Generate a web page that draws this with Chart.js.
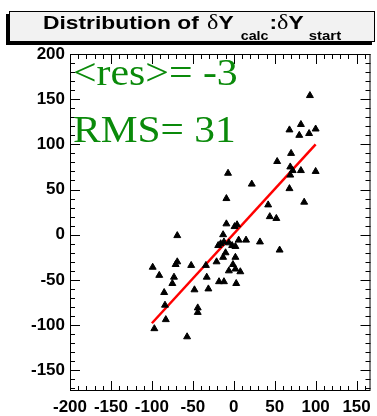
<!DOCTYPE html>
<html>
<head>
<meta charset="utf-8">
<script src="https://cdn.jsdelivr.net/npm/chart.js@4.4.0/dist/chart.umd.min.js"></script>
<style>
    body { margin: 0; background: #ffffff; }
    canvas { display: block; }
</style>
</head>
<body>
<canvas id="myChart" width="377" height="416"></canvas>
<script>
//Data
let dYcalc = [93, 68, 82, 80, 92, 100, 70, 53, 69, 72, 82, 69, 100, -7, 22, 68, -9, 86, 42, 44,
    52, -9, 1, 4, -69, -13, -16, -19, -12, -6, -2, 2, 6, 15, 32, 56, -10, -13, -21, 2,
    -1, -69, -71, -52, -34, -99, -91, -73, -75, -33, -6, 2, 8, -18, -12, 3, -31, -48, -85, -84,
    -44, -44, -83, -97, -57];
let dYstart = [154, 116, 122, 110, 112, 117, 90, 81, 75, 71, 71, 66, 70, 68, 56, 51, 40, 36, 33, 20,
    18, 12, 9, 11, -1, 0, -10, -12, -8, -9, -12, -13, -6, -6, -8, -17, -20, -25, -30, -25,
    -33, -30, -33, -34, -34, -36, -45, -47, -54, -47, -40, -38, -41, -52, -52, -54, -60, -61, -64, -78,
    -81, -86, -94, -104, -113];
let fitX = [-100, 100];
let fitY = [-98, 100];
let xTicks = [-200, -150, -100, -50, 0, 50, 100, 150];
let yTicks = [-150, -100, -50, 0, 50, 100, 150, 200];
let meanRes = -3;
let rmsRes = 31;

let points = dYcalc.map((x, i) => ({ x: x, y: dYstart[i] }));
let fitLine = fitX.map((x, i) => ({ x: x, y: fitY[i] }));

let sansBold = '"Liberation Sans", Arial, sans-serif';
let serif = '"Liberation Serif", "Times New Roman", serif';

//text stretched sideways like the ROOT output, returns the x where it ends
function wideText(ctx, str, x, y, sx) {
    ctx.save();
    ctx.translate(x, y);
    ctx.scale(sx, 1);
    ctx.fillText(str, 0, 0);
    ctx.restore();
    return x + ctx.measureText(str).width * sx;
}

//frame, inward ticks, title box and stats text
let rootStyle = {
    id: 'rootStyle',
    afterDraw(chart) {
        let ctx = chart.ctx;
        let area = chart.chartArea;
        let xs = chart.scales.x;
        let ys = chart.scales.y;

        ctx.save();
        ctx.strokeStyle = '#000000';
        ctx.lineWidth = 1;
        ctx.strokeRect(area.left + 0.5, area.top + 0.5, area.right - area.left - 1, area.bottom - area.top - 1);

        ctx.beginPath();
        for (let v = -200; v <= xs.max; v += 10) {
            let len = (v % 50 === 0) ? 10 : 5;
            let px = Math.round(xs.getPixelForValue(v)) + 0.5;
            ctx.moveTo(px, area.bottom);
            ctx.lineTo(px, area.bottom - len);
            ctx.moveTo(px, area.top);
            ctx.lineTo(px, area.top + len);
        }
        for (let v = -170; v <= ys.max; v += 10) {
            let len = (v % 50 === 0) ? 10 : 5;
            let py = Math.round(ys.getPixelForValue(v)) + 0.5;
            ctx.moveTo(area.left, py);
            ctx.lineTo(area.left + len, py);
            ctx.moveTo(area.right, py);
            ctx.lineTo(area.right - len, py);
        }
        ctx.stroke();

        //title box with shadow
        ctx.fillStyle = '#000000';
        ctx.fillRect(6, 14, 3, 31);
        ctx.fillRect(6, 42, 366, 3);
        ctx.fillStyle = '#f2f2f2';
        ctx.fillRect(9, 11, 366, 31);
        ctx.strokeRect(9.5, 11.5, 365, 30);

        ctx.fillStyle = '#000000';
        ctx.textBaseline = 'alphabetic';
        ctx.textAlign = 'left';
        let tx = 43;
        ctx.font = 'bold 19px ' + sansBold;
        tx = wideText(ctx, 'Distribution of ', tx, 29, 1.2);
        ctx.font = '21px ' + serif;
        tx = wideText(ctx, '\u03B4', tx + 2, 29, 1.15);
        ctx.font = 'bold 19px ' + sansBold;
        tx = wideText(ctx, 'Y', tx, 29, 1.2);
        ctx.font = 'bold 13px ' + sansBold;
        tx = wideText(ctx, 'calc', tx + 7, 40, 1.1);
        ctx.font = 'bold 19px ' + sansBold;
        tx = wideText(ctx, ':', tx + 1, 29, 1.2);
        ctx.font = '21px ' + serif;
        tx = wideText(ctx, '\u03B4', tx, 29, 1.15);
        ctx.font = 'bold 19px ' + sansBold;
        tx = wideText(ctx, 'Y', tx, 29, 1.2);
        ctx.font = 'bold 13px ' + sansBold;
        wideText(ctx, 'start', tx + 5, 40, 1.15);

        //stats
        ctx.fillStyle = '#0a8a0a';
        ctx.font = '38px ' + serif;
        wideText(ctx, '<res>= ' + meanRes, 73, 85, 1.1);
        wideText(ctx, 'RMS= ' + rmsRes, 73, 142, 1.09);
        ctx.restore();
    }
};

//chart.js setup
let canvasElement = document.getElementById("myChart").getContext('2d');
let tickFont = { family: sansBold, size: 17, weight: 'bold' };
let config = {
    type: 'scatter',
    data: {
        datasets: [{
                label: 'dYcalc:dYstart',
                data: points,
                pointStyle: 'triangle',
                pointRadius: 4,
                backgroundColor: '#000000',
                borderColor: '#000000',
                borderWidth: 1
            },
            {
                label: 'fit',
                type: 'line',
                data: fitLine,
                borderColor: '#ff0000',
                borderWidth: 2.5,
                pointRadius: 0,
                fill: false
            }
        ]
    },
    options: {
        responsive: false,
        animation: false,
        layout: { padding: { top: 54, right: 2, left: 0, bottom: 0 } },
        plugins: {
            legend: { display: false },
            tooltip: { enabled: false },
            title: { display: false }
        },
        scales: {
            x: {
                type: 'linear',
                min: -200,
                max: 167,
                afterFit: (scale) => { scale.height = 25; },
                afterBuildTicks: (scale) => { scale.ticks = xTicks.map(v => ({ value: v })); },
                grid: { display: false, drawTicks: false },
                border: { display: false },
                ticks: { font: tickFont, color: '#000000', padding: 6, autoSkip: false, maxRotation: 0 }
            },
            y: {
                type: 'linear',
                min: -173,
                max: 200,
                afterFit: (scale) => { scale.width = 70; },
                afterBuildTicks: (scale) => { scale.ticks = yTicks.map(v => ({ value: v })); },
                grid: { display: false, drawTicks: false },
                border: { display: false },
                ticks: { font: tickFont, color: '#000000', padding: 5, autoSkip: false }
            }
        }
    },
    plugins: [rootStyle]
};

let myChart = new Chart(canvasElement, config);
</script>
</body>
</html>
